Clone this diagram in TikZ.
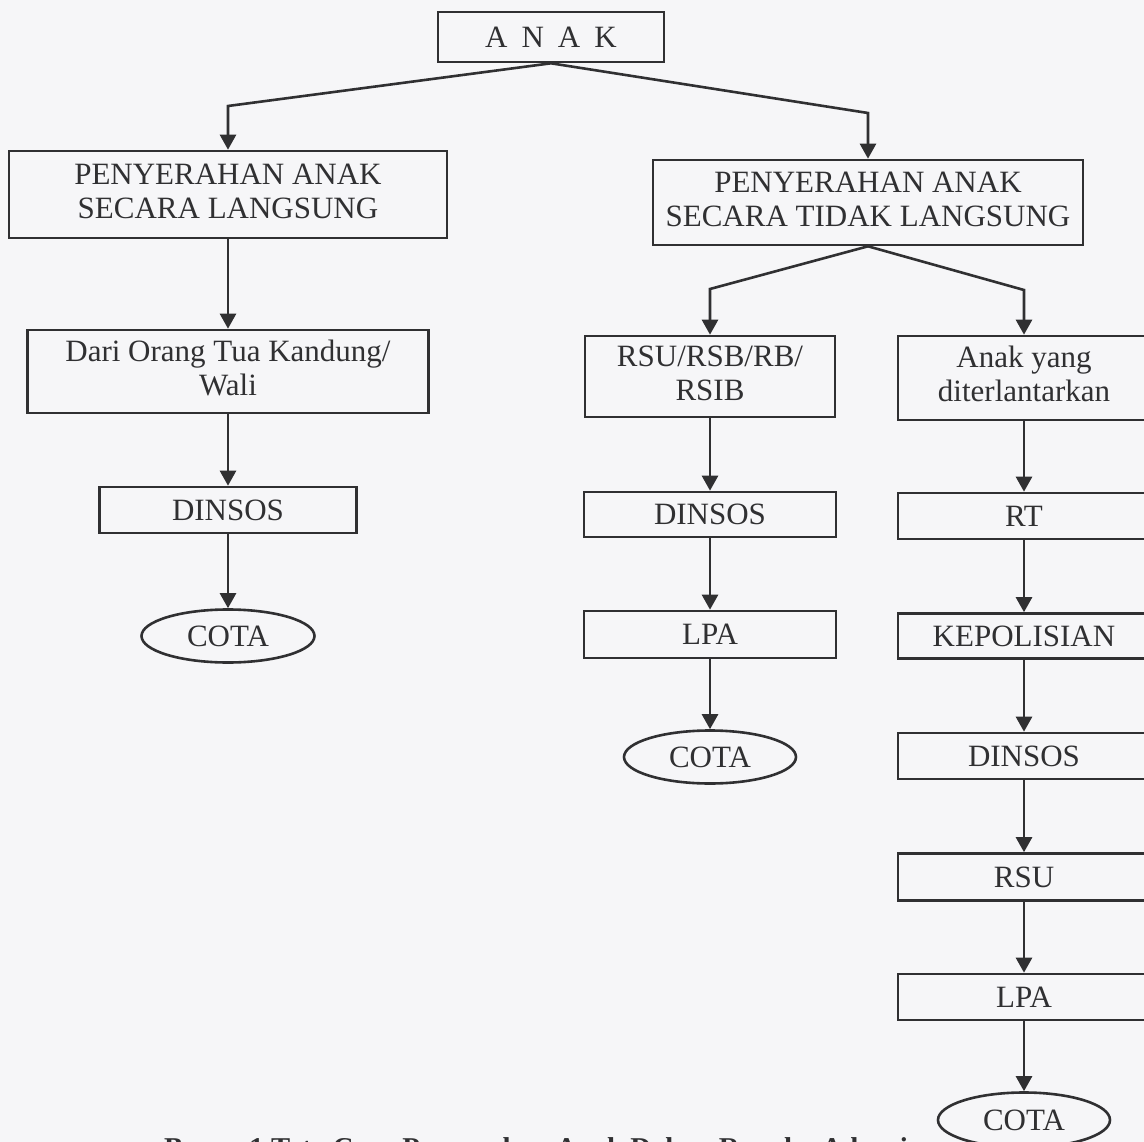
\documentclass[tikz,border=0pt]{standalone}
\usepackage{fontspec}
\setmainfont{Liberation Serif}
\usepackage{tikz}
\usetikzlibrary{arrows.meta,positioning,backgrounds,calc,shapes.geometric}
\definecolor{kertas}{RGB}{246,246,248}
\definecolor{tinta}{RGB}{48,48,50}

\begin{document}
\begin{tikzpicture}[x=1pt, y=-1pt, ->, >={Triangle[length=15pt,width=16pt]},
 line width=2.6pt, draw=tinta, text=tinta,
 font=\fontsize{31}{34}\selectfont]
 \tikzset{kotak/.style={draw, rectangle, inner sep=0pt, minimum width=252pt, minimum height=46pt},
  oval/.style={draw, ellipse, inner sep=0pt, minimum width=172pt, minimum height=53pt}}
 \fill[kertas] (0,0) rectangle (1144,1142);
 \useasboundingbox (0,0) rectangle (1144,1142);
 \node[kotak, minimum width=226pt, minimum height=50pt] (anak) at (551, 37) {{\spaceskip=14pt A N A K}};
 \node[kotak, minimum width=438pt, minimum height=87pt] (langsung) at (228, 194.5) {\begin{tabular}{c} PENYERAHAN ANAK \\ SECARA LANGSUNG \end{tabular}};
 \node[kotak, minimum width=430pt, minimum height=85pt] (tidak) at (868, 202.5) {\begin{tabular}{c} PENYERAHAN ANAK \\ SECARA TIDAK LANGSUNG \end{tabular}};
 % kiri
 \node[kotak, minimum width=401pt, minimum height=83pt] (dari) at (228, 371.5) {\begin{tabular}{c} Dari Orang Tua Kandung/ \\ Wali \end{tabular}};
 \node[kotak, minimum width=257pt] (dinsos1) at (228, 510) {DINSOS};
 \node[oval, minimum width=173pt] (cota1) at (228, 636) {COTA};
 % tengah
 \node[kotak, minimum width=250pt, minimum height=81pt] (rsu) at (710, 376.5) {\begin{tabular}{c} RSU/RSB/RB/ \\ RSIB \end{tabular}};
 \node[kotak, minimum height=45pt] (dinsos2) at (710, 514.5) {DINSOS};
 \node[kotak, minimum height=47pt] (lpa2) at (710, 634.5) {LPA};
 \node[oval] (cota2) at (710, 757) {COTA};
 % kanan
 \node[kotak, minimum height=84pt] (terlantar) at (1024, 378) {\begin{tabular}{c} Anak yang \\ diterlantarkan \end{tabular}};
 \node[kotak] (rt) at (1024, 516) {RT};
 \node[kotak, minimum height=45pt] (polisi) at (1024, 636) {KEPOLISIAN};
 \node[kotak] (dinsos3) at (1024, 756) {DINSOS};
 \node[kotak, minimum height=47pt] (rsu3) at (1024, 877) {RSU};
 \node[kotak] (lpa3) at (1024, 997) {LPA};
 \node[oval, minimum height=55pt] (cota3) at (1024, 1120) {COTA};
 \node[font=\fontsize{28.7}{32}\selectfont\bfseries, anchor=base] (judul) at (536, 1157) {Bagan 1 Tata Cara Penyerahan Anak Dalam Rangka Adopsi};
 % cabang
 \coordinate (kiri) at (228, 106);
 \coordinate (kanan) at (868, 113);
 \coordinate (kiri2) at (710, 289);
 \coordinate (kanan2) at (1024, 290);
 \draw (anak.south) -- (kiri) -- (langsung.north);
 \draw (anak.south) -- (kanan) -- (tidak.north);
 \draw (tidak.south) -- (kiri2) -- (rsu.north);
 \draw (tidak.south) -- (kanan2) -- (terlantar.north);
 \draw (langsung) -- (dari);
 \draw (dari) -- (dinsos1);
 \draw (dinsos1) -- (cota1);
 \draw (rsu) -- (dinsos2);
 \draw (dinsos2) -- (lpa2);
 \draw (lpa2) -- (cota2);
 \draw (terlantar) -- (rt);
 \draw (rt) -- (polisi);
 \draw (polisi) -- (dinsos3);
 \draw (dinsos3) -- (rsu3);
 \draw (rsu3) -- (lpa3);
 \draw (lpa3) -- (cota3);
\end{tikzpicture}
\end{document}
